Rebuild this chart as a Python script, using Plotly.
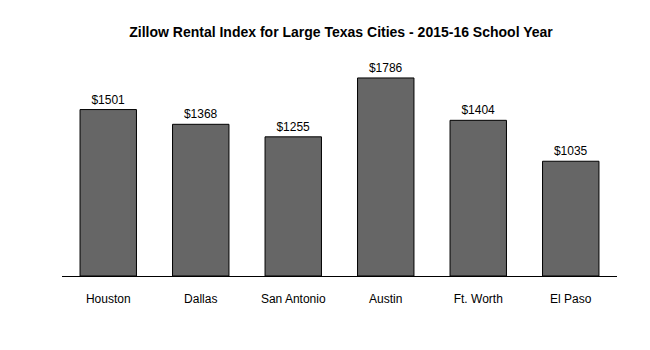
import plotly.graph_objects as go

cities = ["Houston", "Dallas", "San Antonio", "Austin", "Ft. Worth", "El Paso"]
rents = [1501, 1368, 1255, 1786, 1404, 1035]
labels = ["$" + str(v) for v in rents]

fig = go.Figure(go.Bar(
    x=cities, y=rents, text=labels, textposition="outside",
    textfont=dict(family="Liberation Sans, Arial", size=12, color="black"),
    marker=dict(color="#666666", line=dict(color="black", width=1)),
    width=0.61, cliponaxis=False,
))
fig.update_layout(
    width=650, height=350,
    margin=dict(l=62, r=33, t=60, b=74),
    plot_bgcolor="white", paper_bgcolor="white",
    font=dict(family="Liberation Sans, Arial", size=12, color="black"),
    title=dict(text="<b>Zillow Rental Index for Large Texas Cities - 2015-16 School Year</b>",
               x=341 / 650, xanchor="center", y=1 - 32 / 350, yanchor="middle",
               font=dict(size=14, color="black")),
    showlegend=False,
    bargap=0.39,
)
fig.update_xaxes(showline=True, linecolor="black", linewidth=1, ticks="", showgrid=False,
                 ticklabelstandoff=12, tickfont=dict(size=12))
fig.update_yaxes(range=[0, 1948], visible=False, showgrid=False, zeroline=False)
fig.write_html("out.html")
